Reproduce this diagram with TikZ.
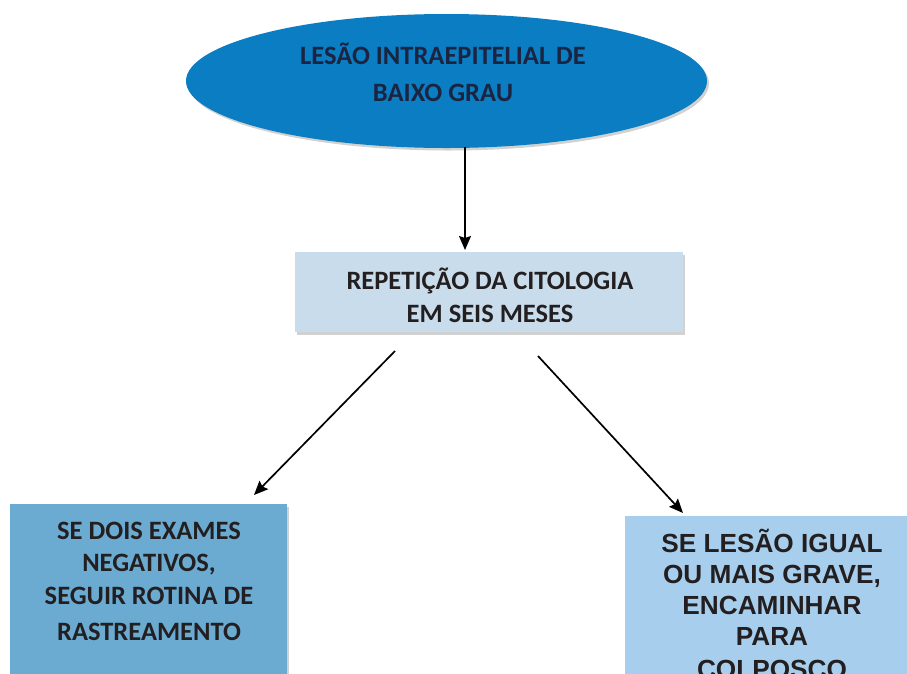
\documentclass[tikz,border=0pt]{standalone}
\usepackage{fontspec}
\setmainfont{Carlito}
\newfontfamily\arialb{Liberation Sans}
\usetikzlibrary{shapes.geometric,shadows,arrows.meta}
\definecolor{ellblue}{HTML}{0A7DC3}
\definecolor{midbox}{HTML}{C9DCEB}
\definecolor{leftbox}{HTML}{6BABD2}
\definecolor{rightbox}{HTML}{A7CEEC}
\definecolor{navytext}{HTML}{1B2440}
\definecolor{darktext}{HTML}{231F20}
\tikzset{
  shad/.style={drop shadow={shadow xshift=2pt,shadow yshift=-2.5pt,fill=black,opacity=0.18}},
  arr/.style={-{Stealth[length=14pt,width=12pt,inset=2pt]},line width=1.7pt,black},
  boxtext/.style={font=\bfseries\fontsize{26.5}{33}\selectfont,text=darktext,align=center,inner sep=0pt},
}
\begin{document}
\begin{tikzpicture}[x=1pt,y=-1pt]
\useasboundingbox (0,0) rectangle (907,673);
\clip (0,0) rectangle (907,673);
% top ellipse
\node[ellipse,fill=ellblue,minimum width=521pt,minimum height=134pt,inner sep=0pt,shad] (ell) at (446.5,81) {};
\node[font=\bfseries\fontsize{26.5}{37}\selectfont,text=navytext,align=center,inner sep=0pt] (t1) at (443,72) {LESÃO INTRAEPITELIAL DE\\BAIXO GRAU};
% middle box
\node[rectangle,fill=midbox,minimum width=388pt,minimum height=80pt,inner sep=0pt,shad] (mid) at (489,292) {};
\node[boxtext] (t2) at (490,295) {REPETIÇÃO DA CITOLOGIA\\EM SEIS MESES};
% left box
\node[rectangle,fill=leftbox,minimum width=277pt,minimum height=220pt,inner sep=0pt,anchor=north west,shad] (lb) at (10,504) {};
\node[boxtext,font=\bfseries\fontsize{26.5}{32}\selectfont] (t3) at (149,581) {SE DOIS EXAMES\\NEGATIVOS,\\[1pt]SEGUIR ROTINA DE\\[4pt]RASTREAMENTO};
% right box
\node[rectangle,fill=rightbox,minimum width=300pt,minimum height=220pt,inner sep=0pt,anchor=north west,shad] (rb) at (625,516) {};
\node[boxtext,font=\arialb\bfseries\fontsize{26.2}{31}\selectfont,anchor=north] (t4) at (772,529) {SE LESÃO IGUAL\\OU MAIS GRAVE,\\ENCAMINHAR\\PARA\\[2pt]COLPOSCO};
% connectors
\coordinate (a1s) at (465,147);
\coordinate (a1e) at (465,250);
\coordinate (a2s) at (395,351);
\coordinate (a2e) at (254,495);
\coordinate (a3s) at (538,356);
\coordinate (a3e) at (683,513);
\draw[arr] (a1s) -- (a1e);
\draw[arr] (a2s) -- (a2e);
\draw[arr] (a3s) -- (a3e);
\end{tikzpicture}
\end{document}
